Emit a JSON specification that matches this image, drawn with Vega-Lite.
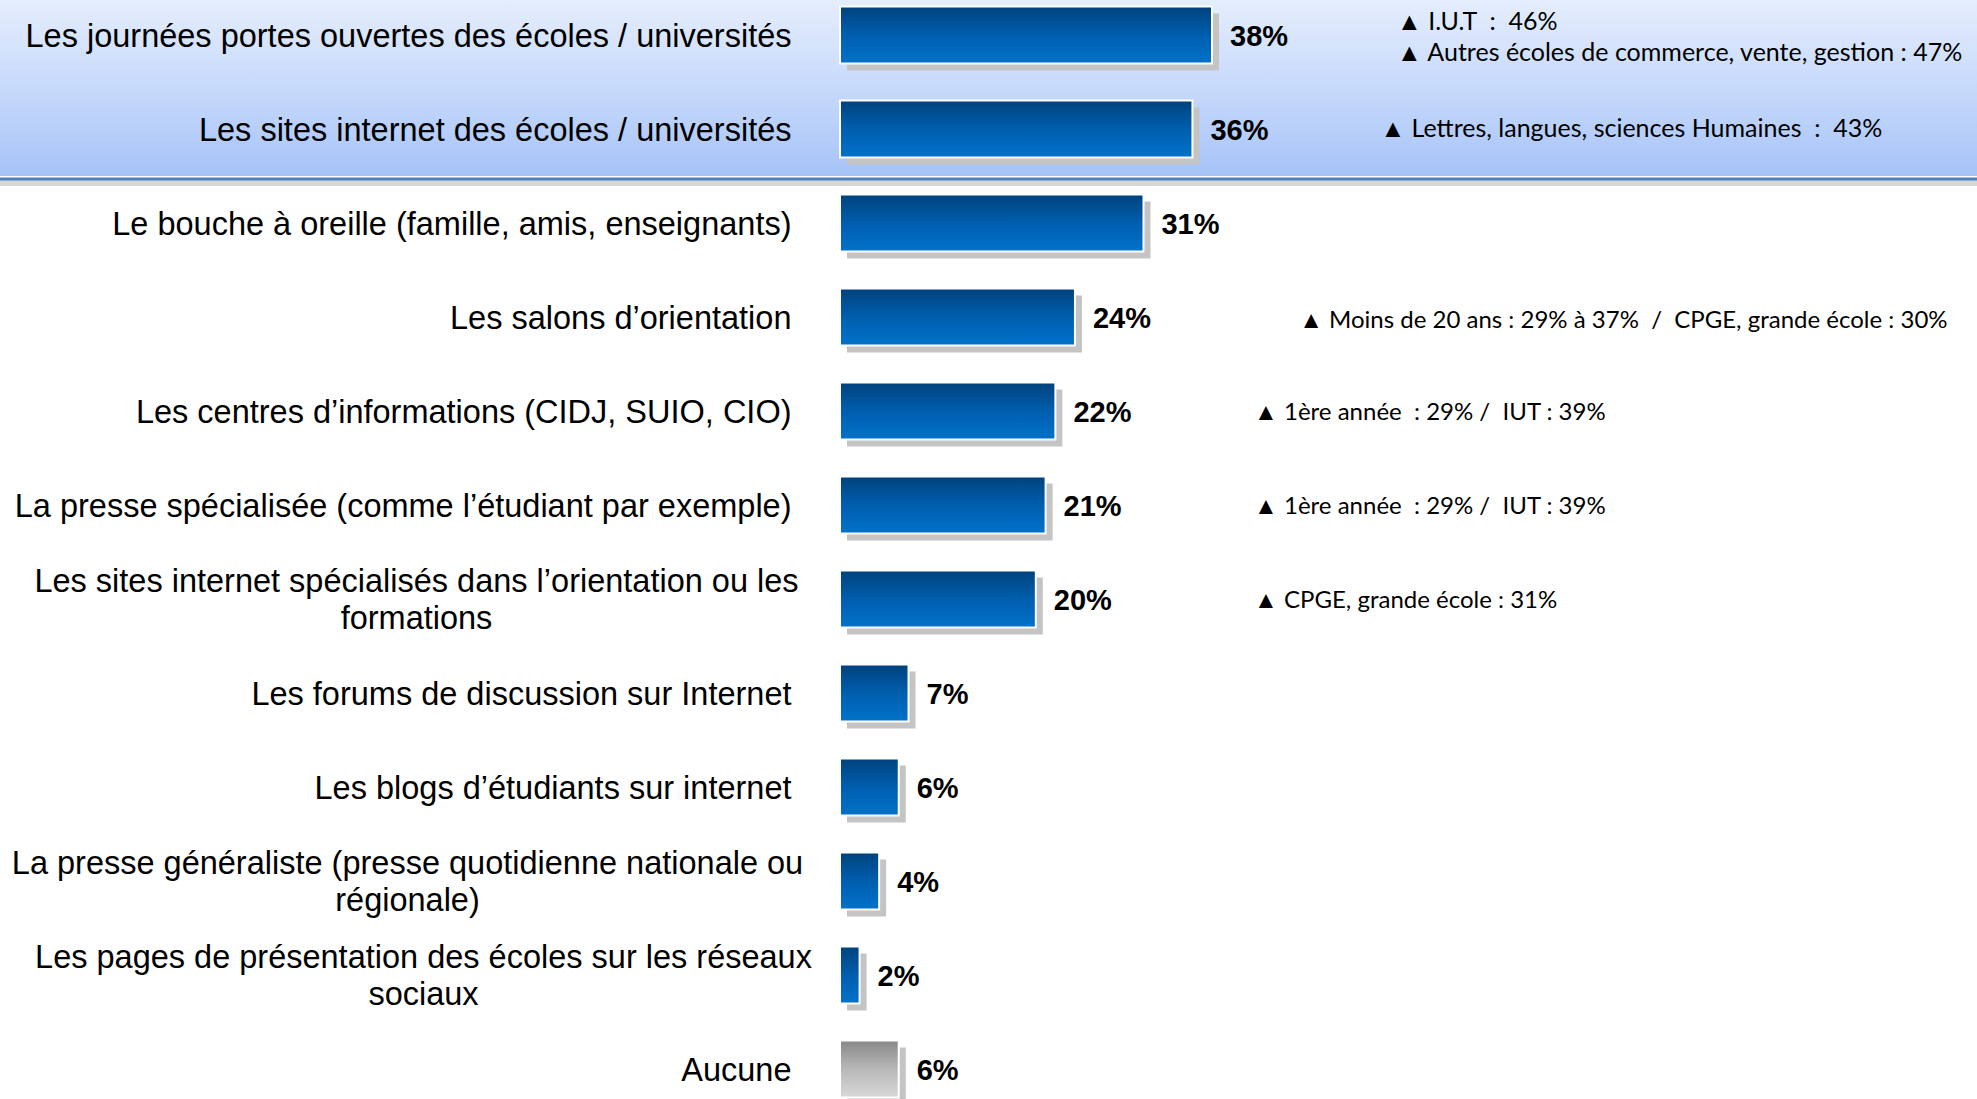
{
  "$schema": "https://vega.github.io/schema/vega-lite/v6.json",
  "width": 1137,
  "height": 1128,
  "autosize": {"type": "none"},
  "padding": {"left": 840, "top": -12, "right": 0, "bottom": 0},
  "background": "white",
  "config": {"view": {"stroke": null}},
  "data": {
    "values": [
      {"rank": 1, "source": "Les journées portes ouvertes des écoles / universités", "pct": 0.38, "note": "▲ I.U.T\u00a0 : \u00a046%\n▲ Autres écoles de commerce, vente, gestion : 47%", "grp": "a"},
      {"rank": 2, "source": "Les sites internet des écoles / universités", "pct": 0.36, "note": "▲ Lettres, langues, sciences Humaines\u00a0 : \u00a043%", "grp": "b"},
      {"rank": 3, "source": "Le bouche à oreille (famille, amis, enseignants)", "pct": 0.31, "note": "", "grp": ""},
      {"rank": 4, "source": "Les salons d’orientation", "pct": 0.24, "note": "▲ Moins de 20 ans : 29% à 37%\u00a0 /\u00a0 CPGE, grande école : 30%", "grp": "c"},
      {"rank": 5, "source": "Les centres d’informations (CIDJ, SUIO, CIO)", "pct": 0.22, "note": "▲ 1ère année\u00a0 : 29% / \u00a0IUT : 39%", "grp": "d"},
      {"rank": 6, "source": "La presse spécialisée (comme l’étudiant par exemple)", "pct": 0.21, "note": "▲ 1ère année\u00a0 : 29% / \u00a0IUT : 39%", "grp": "d"},
      {"rank": 7, "source": "Les sites internet spécialisés dans l’orientation ou les\nformations", "pct": 0.20, "note": "▲ CPGE, grande école : 31%", "grp": "d"},
      {"rank": 8, "source": "Les forums de discussion sur Internet", "pct": 0.07, "note": "", "grp": ""},
      {"rank": 9, "source": "Les blogs d’étudiants sur internet", "pct": 0.06, "note": "", "grp": ""},
      {"rank": 10, "source": "La presse généraliste (presse quotidienne nationale ou\nrégionale)", "pct": 0.04, "note": "", "grp": ""},
      {"rank": 11, "source": "Les pages de présentation des écoles sur les réseaux\nsociaux", "pct": 0.02, "note": "", "grp": ""},
      {"rank": 12, "source": "Aucune", "pct": 0.06, "note": "", "grp": ""}
    ]
  },
  "encoding": {
    "y": {
      "field": "source",
      "type": "nominal",
      "sort": null,
      "scale": {"paddingInner": 0, "paddingOuter": 0},
      "axis": {
        "title": null,
        "domain": false,
        "ticks": false,
        "tickSize": 0,
        "labelFont": "Liberation Sans",
        "labelFontSize": 32.5,
        "labelColor": "#000000",
        "labelLimit": 0,
        "labelLineHeight": 37,
        "labelExpr": "split(datum.value, '\\n')",
        "labelAlign": {"condition": {"test": "indexof(datum.value, '\\n') >= 0", "value": "center"}, "value": "right"},
        "labelOffset": {"condition": {"test": "indexof(datum.value, '\\n') >= 0", "value": -17}, "value": 2},
        "labelPadding": {
          "condition": [
            {"test": "indexof(datum.value, 'La presse généraliste') === 0", "value": 433},
            {"test": "indexof(datum.value, 'Les pages de') === 0", "value": 417},
            {"test": "indexof(datum.value, 'Les sites internet spécialisés') === 0", "value": 424}
          ],
          "value": 49
        }
      }
    }
  },
  "layer": [
    {
      "transform": [{"filter": "datum.rank == 1"}],
      "mark": {"type": "rect", "fill": {"gradient": "linear", "x1": 0, "y1": 0, "x2": 0, "y2": 1, "stops": [{"offset": 0, "color": "#e9f0fd"}, {"offset": 1, "color": "#c9dbfb"}]}},
      "encoding": {
        "x": {"datum": -0.9, "type": "quantitative", "scale": {"domain": [0, 1.1614], "nice": false, "zero": false}, "axis": null},
        "x2": {"datum": 1.2}
      }
    },
    {
      "transform": [{"filter": "datum.rank == 2"}],
      "mark": {"type": "rect", "fill": {"gradient": "linear", "x1": 0, "y1": 0, "x2": 0, "y2": 1, "stops": [{"offset": 0, "color": "#c9dbfb"}, {"offset": 1, "color": "#a6c3f7"}]}},
      "encoding": {
        "x": {"datum": -0.9, "type": "quantitative", "scale": {"domain": [0, 1.1614], "nice": false, "zero": false}, "axis": null},
        "x2": {"datum": 1.2}
      }
    },
    {
      "transform": [{"filter": "datum.rank == 2"}],
      "mark": {"type": "rule", "color": "#8a8a8a", "opacity": 0.35, "strokeWidth": 6, "yOffset": 7},
      "encoding": {
        "y": {"field": "source", "type": "nominal", "sort": null, "bandPosition": 1},
        "x": {"datum": -0.9, "type": "quantitative", "scale": {"domain": [0, 1.1614], "nice": false, "zero": false}, "axis": null},
        "x2": {"datum": 1.2}
      }
    },
    {
      "transform": [{"filter": "datum.rank == 2"}],
      "mark": {"type": "rule", "color": "#4f7fc0", "strokeWidth": 3, "yOffset": 3},
      "encoding": {
        "y": {"field": "source", "type": "nominal", "sort": null, "bandPosition": 1},
        "x": {"datum": -0.9, "type": "quantitative", "scale": {"domain": [0, 1.1614], "nice": false, "zero": false}, "axis": null},
        "x2": {"datum": 1.2}
      }
    },
    {
      "mark": {"type": "bar", "height": {"band": 0.606}, "fill": "#c4c4c4", "xOffset": 7, "yOffset": 7},
      "encoding": {
        "x": {"field": "pct", "type": "quantitative", "scale": {"domain": [0, 1.1614], "nice": false, "zero": false}, "axis": null}
      }
    },
    {
      "transform": [{"filter": "datum.rank != 12"}],
      "mark": {"type": "bar", "height": {"band": 0.606}, "stroke": "white", "strokeWidth": 2, "fill": {"gradient": "linear", "x1": 0, "y1": 0, "x2": 0, "y2": 1, "stops": [{"offset": 0, "color": "#00427c"}, {"offset": 0.5, "color": "#005eae"}, {"offset": 1, "color": "#0072ca"}]}},
      "encoding": {
        "x": {"field": "pct", "type": "quantitative", "scale": {"domain": [0, 1.1614], "nice": false, "zero": false}, "axis": null}
      }
    },
    {
      "transform": [{"filter": "datum.rank == 12"}],
      "mark": {"type": "bar", "height": {"band": 0.606}, "stroke": "white", "strokeWidth": 2, "fill": {"gradient": "linear", "x1": 0, "y1": 0, "x2": 0, "y2": 1, "stops": [{"offset": 0, "color": "#888888"}, {"offset": 0.5, "color": "#b8b8b8"}, {"offset": 1, "color": "#d8d8d8"}]}},
      "encoding": {
        "x": {"field": "pct", "type": "quantitative", "scale": {"domain": [0, 1.1614], "nice": false, "zero": false}, "axis": null}
      }
    },
    {
      "mark": {"type": "text", "align": "left", "baseline": "middle", "dx": 18, "dy": 2, "font": "Liberation Sans", "fontSize": 29, "fontWeight": "bold", "color": "#000000"},
      "encoding": {
        "x": {"field": "pct", "type": "quantitative", "scale": {"domain": [0, 1.1614], "nice": false, "zero": false}, "axis": null},
        "text": {"field": "pct", "type": "quantitative", "format": ".0%"}
      }
    },
    {
      "transform": [{"filter": "datum.grp == 'a'"}],
      "mark": {"type": "text", "align": "left", "baseline": "middle", "lineBreak": "\n", "lineHeight": 31, "dy": -13, "font": "Lato", "fontSize": 25, "color": "#000000"},
      "encoding": {
        "x": {"datum": 0.569, "type": "quantitative", "scale": {"domain": [0, 1.1614], "nice": false, "zero": false}, "axis": null},
        "text": {"field": "note"}
      }
    },
    {
      "transform": [{"filter": "datum.grp == 'b'"}],
      "mark": {"type": "text", "align": "left", "baseline": "middle", "font": "Lato", "fontSize": 25, "color": "#000000"},
      "encoding": {
        "x": {"datum": 0.552, "type": "quantitative", "scale": {"domain": [0, 1.1614], "nice": false, "zero": false}, "axis": null},
        "text": {"field": "note"}
      }
    },
    {
      "transform": [{"filter": "datum.grp == 'c'"}],
      "mark": {"type": "text", "align": "left", "baseline": "middle", "dy": 4, "font": "Lato", "fontSize": 24, "color": "#000000"},
      "encoding": {
        "x": {"datum": 0.469, "type": "quantitative", "scale": {"domain": [0, 1.1614], "nice": false, "zero": false}, "axis": null},
        "text": {"field": "note"}
      }
    },
    {
      "transform": [{"filter": "datum.grp == 'd'"}],
      "mark": {"type": "text", "align": "left", "baseline": "middle", "dy": 2, "font": "Lato", "fontSize": 24, "color": "#000000"},
      "encoding": {
        "x": {"datum": 0.423, "type": "quantitative", "scale": {"domain": [0, 1.1614], "nice": false, "zero": false}, "axis": null},
        "text": {"field": "note"}
      }
    }
  ]
}
